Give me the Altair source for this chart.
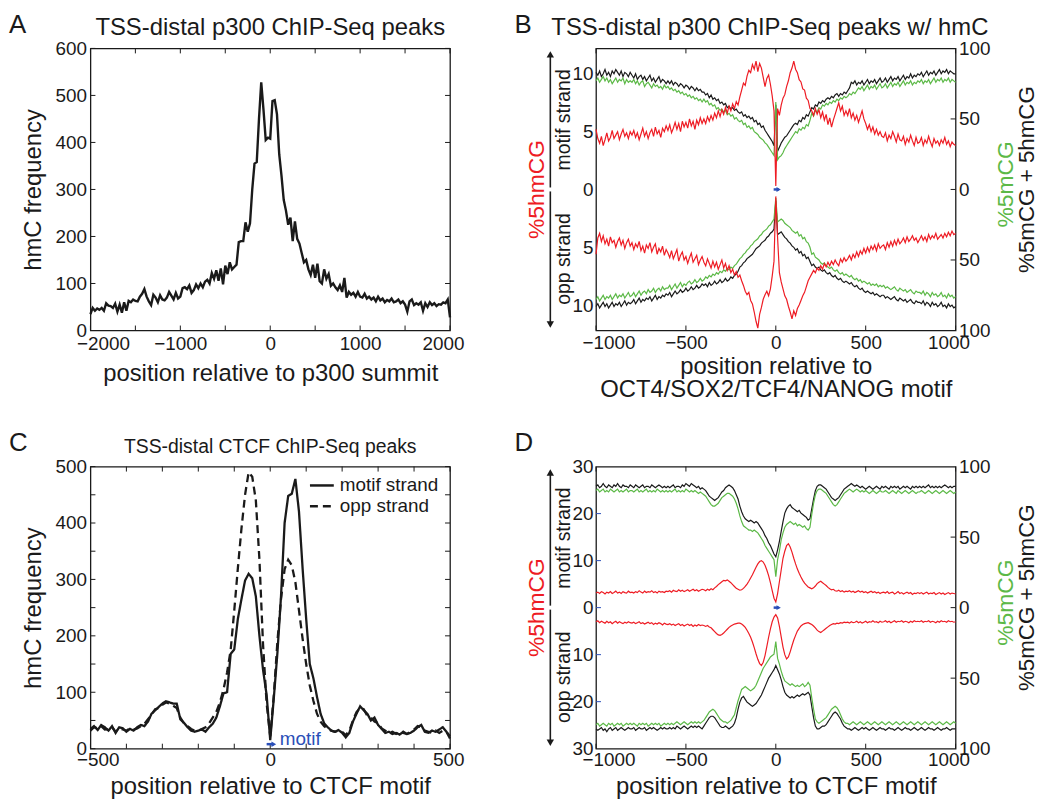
import altair as alt
import pandas as pd

FONT = "Liberation Sans"
RED = "#ee1c24"
GREEN = "#5cb947"
BLACK = "#1a1a1a"
BLUE = "#2a4fb8"
W, H = 362, 284

# ---------------- Panel A ----------------
a_title = "TSS-distal p300 ChIP-Seq peaks"
a_pos = list(range(-2000, 2001, 25))
a_hmc = [35, 48, 42, 47, 44, 48, 42, 58, 53, 52, 48, 57, 40, 55, 38, 60, 42, 63, 60, 66,
         63, 62, 72, 78, 88, 72, 62, 54, 76, 70, 60, 75, 66, 64, 70, 82, 74, 66, 80, 68,
         72, 90, 92, 88, 96, 80, 86, 98, 90, 100, 92, 104, 108, 100, 122, 110, 128, 106, 132, 98,
         138, 120, 145, 130, 135, 140, 188, 190, 190, 230, 210, 228, 300, 355, 358, 450, 528, 470, 405, 410,
         408, 488, 490, 460, 375, 330, 278, 255, 225, 240, 190, 232, 195, 185, 165, 145, 150, 130, 118, 140,
         112, 142, 105, 100, 130, 110, 120, 95, 100, 92, 86, 96, 82, 112, 70, 82, 76, 80, 72, 82,
         72, 70, 78, 68, 72, 66, 70, 62, 72, 64, 68, 60, 65, 62, 68, 60, 62, 66, 58, 62,
         55, 40, 62, 66, 54, 58, 55, 60, 42, 58, 50, 60, 54, 58, 52, 56, 55, 60, 58, 66, 28]
a_xticks = [-2000, -1500, -1000, -500, 0, 500, 1000, 1500, 2000]
a_xlabels = [-2000, -1000, 0, 1000, 2000]
a_yticks = [0, 100, 200, 300, 400, 500, 600]

# ---------------- Panel C ----------------
c_title = "TSS-distal CTCF ChIP-Seq peaks"
c_pos = list(range(-500, 501, 10))
c_motif = [35, 40, 33, 42, 38, 32, 40, 28, 38, 36, 30, 35, 32, 38, 42, 40, 48, 62, 68, 74,
           80, 84, 82, 80, 80, 52, 46, 38, 32, 30, 32, 34, 30, 38, 44, 55, 75, 98, 100, 168,
           176, 230, 265, 298, 310, 302, 270, 200, 140, 95, 15, 90, 170, 270, 400, 448, 452, 478, 420, 320,
           230, 150, 125, 92, 62, 45, 38, 32, 30, 33, 28, 20, 28, 48, 62, 75, 68, 62, 50, 55,
           42, 35, 28, 30, 26, 28, 25, 30, 26, 28, 32, 38, 42, 30, 28, 32, 30, 34, 38, 30, 18]
c_opp = [32, 38, 36, 40, 34, 35, 38, 30, 36, 34, 32, 36, 34, 36, 40, 44, 52, 60, 70, 72,
         78, 82, 80, 76, 72, 55, 45, 40, 35, 32, 32, 35, 38, 45, 55, 65, 82, 105, 135, 175,
         245, 320, 390, 450, 490, 482, 440, 335, 185, 80, 22, 95, 190, 265, 318, 335, 325, 295, 245, 195,
         150, 112, 85, 62, 48, 40, 35, 32, 30, 32, 30, 24, 32, 50, 65, 72, 70, 58, 55, 48,
         45, 36, 32, 28, 30, 26, 30, 28, 26, 30, 34, 40, 38, 32, 30, 28, 32, 28, 32, 30, 22]
c_xticks = [-500, -400, -300, -200, -100, 0, 100, 200, 300, 400, 500]
c_xlabels = [-500, 0, 500]
c_yticks = [0, 50, 100, 150, 200, 250, 300, 350, 400, 450, 500]
c_ylabels = [0, 100, 200, 300, 400, 500]
c_strands = ["motif strand", "opp strand"]
c_motif_from, c_motif_to, c_motif_y = [-10], [10], [8]

# ---------------- Panel B ----------------
b_title = "TSS-distal p300 ChIP-Seq peaks w/ hmC"
bd_pos = list(range(-1000, 1001, 10))
b_motif_hmc = ([5.2, 4.4, 4.0, 4.6, 3.8, 4.3, 4.9, 4.2, 4.5, 5.1, 4.4, 4.7, 5.0, 4.3, 4.8, 5.2, 4.6, 4.9, 4.4, 5.0]
               + [4.7, 5.1, 4.5, 4.9, 4.3, 4.8, 5.3, 4.6, 5.0, 4.4, 4.9, 5.2, 4.6, 5.4, 4.8, 5.1, 4.5, 5.3, 5.0, 5.5]
               + [5.1, 5.6, 4.9, 5.3, 5.8, 5.2, 5.7, 5.0, 5.9, 5.4, 5.8, 5.3, 6.1, 5.5, 5.9, 5.2, 6.0, 5.6, 6.2, 5.7]
               + [6.1, 5.7, 6.3, 5.9, 6.4, 6.0, 6.6, 6.2, 6.8, 6.3, 6.9, 6.5, 7.1, 6.6, 7.2, 6.8, 7.4, 7.0, 7.6, 7.3]
               + [8.0, 8.6, 9.2, 9.0, 9.8, 10.3, 10.1, 10.8, 10.4, 11.1, 10.2, 10.9, 10.5, 9.7, 8.9, 9.6, 9.9, 9.1, 8.1, 6.8]
               + [0.3]
               + [7.0, 6.4, 7.3, 7.9, 8.2, 8.9, 9.4, 10.1, 10.5, 11.1, 10.4, 10.1, 9.5, 9.3, 8.7, 8.6, 7.9, 7.7, 7.0]
               + [6.8, 6.4, 7.0, 6.5, 6.9, 6.2, 6.7, 6.0, 6.5, 5.6, 6.2, 5.4, 6.0, 6.5, 7.0, 7.5, 6.8, 7.2, 6.4, 6.8]
               + [6.4, 7.0, 6.2, 6.6, 6.0, 6.4, 5.8, 6.3, 6.8, 6.1, 5.7, 5.2, 5.6, 5.0, 5.4, 4.8, 5.2, 4.7, 5.0, 4.6]
               + [4.5, 4.9, 4.2, 4.7, 4.4, 5.0, 4.6, 4.1, 4.8, 4.3, 4.2, 4.6, 3.9, 4.4, 4.1, 4.7, 4.2, 3.8, 4.5, 4.0]
               + [4.1, 4.5, 3.8, 4.3, 4.0, 4.6, 4.1, 3.7, 4.4, 4.0, 4.2, 3.8, 4.3, 4.0, 4.5, 3.9, 4.2, 3.7, 4.1, 3.9]
               + [3.8])
b_motif_total = ([83, 81, 84, 80, 82, 85, 81, 83, 80, 84, 82, 85, 83, 81, 84, 80, 83, 82, 80, 83]
                 + [81, 79, 82, 78, 80, 81, 78, 80, 77, 79, 81, 77, 79, 76, 78, 80, 76, 78, 77, 75]
                 + [77, 75, 77, 74, 76, 75, 73, 75, 74, 72, 74, 73, 71, 73, 72, 70, 72, 70, 71, 69]
                 + [69, 67, 68, 65, 67, 64, 65, 63, 64, 61, 62, 60, 61, 58, 59, 57, 58, 56, 57, 55]
                 + [54, 55, 52, 53, 51, 52, 50, 51, 48, 49, 46, 47, 44, 45, 42, 40, 38, 36, 34, 31]
                 + [60]
                 + [27, 30, 33, 35, 37, 38, 40, 42, 44, 46, 47, 46, 49, 48, 51, 50, 53, 52, 55]
                 + [58, 57, 60, 59, 62, 61, 63, 62, 64, 65, 64, 66, 65, 67, 68, 66, 68, 67, 69, 68]
                 + [70, 72, 76, 75, 77, 74, 76, 75, 77, 74, 76, 78, 75, 77, 76, 78, 75, 77, 79, 76]
                 + [77, 79, 76, 78, 80, 77, 79, 78, 80, 77, 79, 81, 78, 80, 79, 82, 79, 81, 80, 82]
                 + [81, 83, 80, 82, 84, 81, 83, 82, 84, 81, 83, 85, 82, 84, 83, 85, 82, 84, 83, 82]
                 + [82])
b_motif_mc = ([77, 79, 76, 78, 80, 77, 79, 76, 78, 75, 77, 79, 76, 78, 77, 79, 75, 78, 76, 77]
              + [76, 78, 75, 77, 74, 76, 77, 73, 75, 76, 74, 72, 75, 73, 74, 72, 73, 71, 74, 72]
              + [73, 71, 72, 70, 71, 69, 70, 68, 69, 67, 68, 66, 67, 65, 66, 64, 65, 63, 64, 62]
              + [64, 62, 63, 60, 61, 59, 60, 57, 58, 56, 57, 55, 56, 53, 54, 52, 53, 50, 51, 49]
              + [48, 49, 46, 47, 44, 45, 43, 44, 41, 40, 39, 37, 36, 35, 33, 32, 30, 28, 26, 24]
              + [62]
              + [21, 23, 24, 26, 29, 31, 33, 35, 37, 39, 41, 40, 43, 42, 44, 43, 46, 45, 49]
              + [54, 52, 56, 55, 58, 57, 60, 59, 61, 60, 62, 61, 63, 62, 64, 63, 65, 64, 66, 65]
              + [66, 68, 67, 69, 68, 70, 72, 71, 73, 70, 72, 74, 71, 73, 72, 74, 71, 73, 75, 72]
              + [73, 75, 72, 74, 76, 73, 75, 74, 76, 73, 75, 77, 74, 76, 75, 77, 74, 76, 75, 77]
              + [76, 78, 75, 77, 76, 78, 75, 77, 79, 76, 78, 77, 79, 76, 78, 77, 79, 76, 78, 77]
              + [76])
b_opp_hmc = ([5.6, 4.2, 3.8, 4.5, 4.0, 4.7, 4.3, 4.9, 4.1, 4.6, 4.4, 5.0, 4.5, 4.2, 4.8, 4.4, 5.1, 4.6, 4.3, 4.9]
             + [4.6, 5.2, 4.7, 5.0, 4.5, 5.3, 4.9, 5.5, 4.8, 5.1, 4.6, 5.4, 5.0, 4.7, 5.6, 5.1, 5.4, 4.9, 5.7, 5.2]
             + [5.5, 5.9, 5.3, 6.0, 5.6, 5.2, 6.2, 5.7, 5.4, 6.1, 5.8, 6.4, 5.9, 5.5, 6.3, 6.0, 5.7, 6.5, 6.1, 5.8]
             + [6.3, 6.6, 6.0, 6.4, 6.8, 6.2, 6.7, 6.3, 6.9, 6.5, 6.1, 6.8, 6.4, 7.0, 6.6, 7.2, 6.9, 7.4, 7.1, 7.6]
             + [7.4, 7.9, 8.3, 8.8, 9.1, 8.9, 9.6, 9.9, 10.6, 11.4, 12.0, 10.8, 10.2, 9.5, 9.1, 8.8, 9.2, 8.6, 7.5, 6.2]
             + [0.6]
             + [4.2, 7.2, 8.0, 8.6, 9.2, 9.5, 10.1, 10.6, 11.2, 10.5, 10.9, 10.3, 10.0, 9.6, 9.2, 8.9, 8.4, 7.9, 7.6]
             + [7.3, 7.0, 7.2, 6.8, 7.0, 6.6, 6.9, 6.4, 6.7, 6.3, 6.6, 6.2, 6.5, 6.1, 6.4, 6.6, 6.0, 6.3, 5.9, 6.2]
             + [6.0, 5.7, 6.1, 5.6, 5.9, 5.4, 5.8, 5.3, 5.6, 5.1, 5.5, 5.0, 5.4, 4.9, 5.2, 4.8, 5.3, 4.7, 5.1, 4.9]
             + [4.8, 5.2, 4.6, 5.0, 4.5, 4.9, 4.4, 4.8, 4.3, 4.7, 4.5, 4.2, 4.6, 4.1, 4.5, 4.3, 4.0, 4.4, 4.2, 4.6]
             + [4.3, 4.0, 4.4, 4.1, 4.5, 3.9, 4.3, 4.0, 4.2, 3.8, 4.3, 4.1, 3.9, 4.2, 3.8, 4.1, 3.7, 4.0, 3.6, 3.9]
             + [3.8])
b_opp_total = ([83, 81, 84, 82, 80, 83, 81, 84, 82, 80, 83, 81, 82, 80, 83, 81, 79, 82, 80, 81]
               + [80, 78, 81, 79, 77, 80, 78, 79, 77, 78, 76, 79, 77, 75, 78, 76, 77, 75, 76, 74]
               + [75, 73, 76, 74, 72, 74, 73, 71, 73, 72, 70, 72, 71, 69, 71, 70, 68, 70, 69, 67]
               + [68, 67, 69, 66, 68, 67, 65, 67, 66, 64, 66, 65, 63, 65, 64, 62, 63, 61, 60, 58]
               + [55, 54, 52, 51, 49, 48, 47, 46, 44, 42, 41, 40, 38, 37, 36, 34, 33, 31, 30, 28]
               + [8]
               + [32, 31, 30, 32, 34, 35, 37, 38, 40, 41, 43, 42, 45, 44, 47, 46, 49, 48, 51]
               + [54, 53, 55, 56, 55, 57, 58, 57, 59, 60, 59, 61, 62, 61, 63, 64, 63, 65, 66, 65]
               + [66, 67, 66, 68, 69, 68, 70, 71, 70, 72, 73, 72, 73, 74, 73, 75, 74, 75, 76, 75]
               + [75, 77, 76, 77, 78, 77, 76, 78, 79, 77, 78, 79, 78, 80, 79, 78, 80, 81, 79, 80]
               + [80, 81, 79, 82, 80, 81, 83, 80, 82, 81, 83, 82, 80, 83, 82, 84, 81, 83, 82, 84]
               + [83])
b_opp_mc = ([78, 76, 79, 77, 75, 78, 76, 77, 75, 78, 76, 74, 77, 75, 76, 74, 77, 75, 73, 76]
            + [75, 73, 76, 74, 72, 75, 73, 72, 74, 71, 73, 72, 70, 73, 71, 70, 72, 69, 71, 70]
            + [70, 68, 71, 69, 67, 70, 68, 66, 69, 67, 68, 66, 65, 67, 66, 64, 66, 65, 63, 65]
            + [64, 62, 63, 61, 62, 60, 61, 59, 60, 58, 59, 57, 58, 56, 57, 55, 56, 54, 53, 51]
            + [49, 48, 46, 45, 43, 42, 40, 39, 37, 36, 35, 33, 32, 30, 29, 28, 26, 25, 23, 21]
            + [6]
            + [23, 22, 21, 22, 24, 25, 26, 27, 29, 30, 31, 30, 33, 32, 35, 34, 37, 38, 41]
            + [46, 45, 48, 49, 50, 52, 53, 52, 54, 55, 56, 55, 57, 58, 57, 59, 60, 59, 61, 60]
            + [61, 62, 61, 63, 64, 63, 65, 64, 66, 65, 66, 67, 66, 68, 67, 68, 67, 69, 68, 69]
            + [68, 70, 69, 70, 71, 70, 69, 71, 72, 70, 71, 72, 71, 73, 72, 71, 73, 74, 72, 73]
            + [73, 74, 72, 75, 73, 74, 76, 73, 75, 74, 76, 75, 73, 76, 75, 77, 74, 76, 75, 77]
            + [76])

# ---------------- Panel D ----------------
d_motif_hmc = ([3.1, 3.3, 3.0, 3.4, 3.2, 2.9, 3.3, 3.1, 3.4, 3.0, 3.2, 3.5, 3.1, 3.3, 3.0, 3.4, 3.2, 3.1, 3.5, 3.2]
               + [3.3, 3.1, 3.4, 3.2, 3.6, 3.3, 3.1, 3.5, 3.2, 3.4, 3.3, 3.6, 3.2, 3.4, 3.1, 3.5, 3.3, 3.4, 3.2, 3.5]
               + [3.4, 3.6, 3.3, 3.7, 3.5, 3.4, 3.8, 3.5, 3.7, 3.4, 3.6, 3.8, 3.5, 3.7, 3.9, 3.6, 3.8, 3.5, 3.7, 3.9]
               + [3.8, 3.6, 3.9, 3.7, 4.0, 3.8, 4.2, 4.5, 4.9, 5.2, 5.5, 5.8, 5.7, 5.9, 5.6, 5.3, 4.9, 4.5, 4.1, 3.9]
               + [3.7, 3.8, 4.1, 4.5, 5.0, 5.6, 6.3, 7.0, 7.8, 8.6, 9.3, 9.8, 10.0, 9.7, 9.0, 8.0, 6.8, 5.3, 3.6, 2.0]
               + [1.2]
               + [3.0, 5.5, 8.0, 10.5, 12.0, 13.2, 13.6, 12.9, 11.8, 10.5, 9.3, 8.2, 7.3, 6.5, 5.8, 5.2, 4.8, 4.4, 4.2]
               + [4.0, 4.2, 4.6, 5.1, 5.4, 5.6, 5.3, 5.0, 4.7, 4.3, 4.0, 3.8, 3.9, 3.6, 3.5, 3.7, 3.4, 3.6, 3.3, 3.5]
               + [3.4, 3.6, 3.3, 3.5, 3.2, 3.4, 3.6, 3.3, 3.5, 3.2, 3.4, 3.1, 3.3, 3.5, 3.2, 3.4, 3.1, 3.3, 3.0, 3.2]
               + [3.3, 3.1, 3.4, 3.0, 3.2, 3.3, 2.9, 3.1, 3.4, 3.0, 3.2, 2.9, 3.1, 3.3, 3.0, 3.2, 2.8, 3.1, 3.0, 3.2]
               + [3.0, 3.2, 2.9, 3.1, 3.3, 2.9, 3.1, 3.0, 3.2, 2.8, 3.0, 3.2, 2.9, 3.1, 2.8, 3.0, 3.2, 2.9, 3.1, 3.0]
               + [2.9])
d_motif_total = ([86, 87, 85, 86, 88, 86, 85, 87, 86, 85, 87, 86, 88, 86, 85, 87, 86, 86, 85, 87]
                 + [86, 85, 87, 86, 85, 86, 87, 85, 86, 86, 85, 87, 86, 85, 86, 87, 86, 85, 86, 85]
                 + [86, 85, 86, 87, 85, 86, 86, 85, 87, 86, 88, 87, 86, 88, 87, 86, 85, 86, 84, 85]
                 + [84, 83, 81, 79, 78, 77, 76, 77, 78, 80, 82, 83, 85, 86, 87, 86, 85, 83, 80, 77]
                 + [72, 68, 65, 63, 62, 61, 62, 61, 60, 61, 60, 58, 56, 54, 51, 49, 46, 44, 41, 38]
                 + [36]
                 + [41, 47, 54, 61, 67, 70, 72, 73, 71, 70, 69, 68, 69, 67, 66, 65, 64, 62, 63]
                 + [70, 77, 83, 86, 87, 87, 86, 85, 84, 82, 80, 78, 77, 76, 77, 78, 80, 82, 84, 85]
                 + [86, 87, 88, 87, 86, 87, 86, 85, 86, 85, 84, 85, 86, 85, 84, 85, 86, 85, 84, 86]
                 + [85, 86, 85, 84, 86, 85, 86, 85, 86, 84, 85, 86, 85, 86, 85, 84, 86, 85, 86, 85]
                 + [86, 85, 86, 85, 86, 87, 85, 86, 85, 86, 85, 86, 85, 86, 87, 86, 85, 86, 85, 86]
                 + [86])
d_motif_mc = ([83, 84, 82, 83, 84, 82, 83, 82, 84, 83, 82, 83, 84, 82, 83, 82, 83, 84, 82, 83]
              + [83, 82, 83, 84, 82, 83, 82, 83, 84, 82, 83, 82, 83, 82, 84, 83, 82, 83, 82, 83]
              + [82, 83, 82, 83, 84, 82, 83, 82, 83, 82, 84, 83, 82, 83, 82, 83, 82, 81, 82, 81]
              + [80, 79, 77, 75, 73, 72, 72, 73, 74, 76, 78, 79, 80, 81, 81, 80, 79, 77, 74, 70]
              + [65, 61, 58, 57, 56, 55, 55, 54, 55, 54, 53, 51, 49, 47, 44, 42, 40, 38, 36, 34]
              + [22]
              + [34, 40, 48, 53, 57, 59, 60, 61, 60, 59, 60, 58, 59, 58, 57, 58, 56, 55, 57]
              + [66, 74, 80, 83, 84, 84, 83, 82, 81, 79, 77, 75, 73, 72, 73, 75, 77, 79, 81, 82]
              + [83, 84, 83, 82, 83, 84, 83, 82, 83, 82, 83, 82, 81, 82, 83, 82, 81, 82, 83, 82]
              + [82, 83, 82, 81, 82, 83, 82, 81, 83, 82, 81, 82, 83, 82, 81, 82, 83, 82, 81, 82]
              + [82, 83, 82, 81, 82, 83, 82, 81, 82, 83, 82, 81, 82, 83, 82, 81, 82, 83, 82, 81]
              + [82])
d_opp_hmc = ([3.0, 2.8, 3.2, 2.9, 3.1, 3.3, 2.9, 3.2, 3.0, 3.4, 3.1, 2.9, 3.3, 3.0, 3.2, 3.4, 3.1, 3.3, 3.0, 3.2]
             + [3.3, 3.1, 3.4, 3.2, 3.0, 3.4, 3.2, 3.5, 3.3, 3.1, 3.4, 3.2, 3.6, 3.3, 3.5, 3.2, 3.4, 3.7, 3.3, 3.5]
             + [3.6, 3.4, 3.7, 3.5, 3.8, 3.6, 3.4, 3.8, 3.6, 3.9, 3.7, 3.5, 3.8, 3.6, 4.0, 3.7, 3.9, 3.6, 3.8, 3.7]
             + [3.8, 4.0, 3.8, 4.1, 4.3, 4.7, 5.1, 5.5, 5.8, 5.9, 5.7, 5.4, 5.0, 4.6, 4.2, 3.9, 3.7, 3.5, 3.4, 3.3]
             + [3.3, 3.5, 3.8, 4.2, 4.8, 5.5, 6.3, 7.3, 8.5, 9.8, 11.0, 11.9, 12.3, 11.6, 10.2, 8.3, 6.3, 4.5, 3.0, 2.0]
             + [1.5]
             + [2.2, 4.0, 6.2, 8.4, 10.0, 10.9, 10.5, 9.4, 8.1, 6.9, 5.9, 5.0, 4.4, 3.9, 3.6, 3.4, 3.3, 3.2, 3.4]
             + [3.6, 3.9, 4.3, 4.8, 5.1, 5.3, 5.0, 4.7, 4.4, 4.1, 3.8, 3.6, 3.4, 3.5, 3.3, 3.4, 3.2, 3.3, 3.1, 3.2]
             + [3.1, 3.3, 3.0, 3.2, 3.1, 2.9, 3.2, 3.0, 3.3, 3.1, 2.9, 3.2, 3.0, 3.1, 2.8, 3.1, 3.0, 3.2, 2.9, 3.1]
             + [3.0, 2.8, 3.1, 2.9, 3.2, 3.0, 2.8, 3.1, 2.9, 3.0, 2.8, 3.1, 2.9, 3.0, 3.2, 2.9, 3.1, 2.8, 3.0, 2.9]
             + [3.0, 2.8, 3.1, 2.9, 3.0, 2.8, 3.1, 2.9, 3.0, 3.2, 2.9, 3.1, 2.8, 3.0, 2.9, 3.1, 2.8, 3.0, 2.9, 3.1]
             + [3.0])
d_opp_total = ([86, 87, 86, 85, 87, 86, 88, 86, 85, 87, 86, 85, 87, 86, 85, 86, 87, 86, 85, 86]
               + [86, 85, 87, 86, 85, 86, 86, 85, 87, 86, 85, 86, 85, 86, 87, 86, 85, 86, 85, 86]
               + [86, 85, 86, 85, 86, 84, 85, 86, 85, 84, 85, 86, 85, 84, 85, 84, 85, 84, 85, 86]
               + [84, 82, 80, 78, 77, 77, 78, 80, 82, 84, 85, 85, 84, 85, 86, 85, 84, 82, 78, 72]
               + [67, 64, 63, 65, 67, 68, 69, 70, 69, 68, 66, 64, 62, 59, 56, 53, 50, 48, 46, 44]
               + [41]
               + [44, 47, 51, 56, 60, 62, 63, 64, 63, 64, 63, 62, 63, 62, 61, 62, 61, 60, 62]
               + [70, 78, 84, 86, 86, 85, 84, 84, 83, 81, 79, 77, 75, 74, 75, 77, 79, 82, 84, 85]
               + [86, 86, 87, 86, 85, 86, 87, 86, 85, 86, 85, 86, 87, 86, 85, 86, 87, 86, 85, 86]
               + [86, 87, 86, 85, 86, 86, 87, 86, 85, 86, 87, 86, 85, 86, 86, 87, 86, 85, 86, 87]
               + [86, 85, 86, 87, 86, 85, 86, 86, 87, 86, 85, 86, 87, 86, 86, 85, 86, 87, 86, 86]
               + [86])
d_opp_mc = ([83, 82, 84, 83, 82, 83, 84, 82, 83, 82, 84, 83, 82, 83, 82, 84, 83, 82, 83, 82]
            + [83, 82, 83, 84, 82, 83, 82, 83, 82, 84, 83, 82, 83, 82, 83, 82, 84, 83, 82, 83]
            + [82, 83, 82, 83, 82, 81, 82, 83, 82, 81, 82, 83, 82, 81, 82, 81, 82, 81, 82, 81]
            + [80, 78, 76, 74, 73, 72, 73, 75, 77, 79, 80, 81, 81, 82, 81, 80, 78, 76, 71, 66]
            + [62, 58, 57, 56, 57, 58, 59, 58, 57, 55, 52, 49, 46, 43, 41, 39, 37, 35, 34, 33]
            + [24]
            + [36, 40, 45, 49, 52, 53, 54, 55, 54, 55, 56, 55, 56, 55, 54, 56, 55, 53, 55]
            + [64, 72, 79, 81, 82, 81, 80, 79, 78, 76, 74, 72, 71, 70, 71, 73, 76, 79, 81, 82]
            + [82, 83, 82, 81, 82, 83, 82, 81, 82, 83, 82, 81, 82, 83, 82, 81, 82, 83, 82, 81]
            + [82, 83, 82, 81, 82, 83, 82, 81, 82, 83, 82, 81, 82, 83, 82, 81, 82, 83, 82, 81]
            + [82, 83, 82, 81, 82, 83, 82, 81, 82, 83, 82, 81, 82, 83, 82, 81, 82, 83, 82, 81]
            + [82])

bd_xticks = [-1000, -500, 0, 500, 1000]
bd_right_ticks = [-50, 0, 50]
bd_right_labels = [-100, -50, 0, 50, 100]
b_left_labels = [-10, -5, 0, 5, 10]
d_left_labels = [-30, -20, -10, 0, 10, 20, 30]
d_left_ticks = [-20, -10, 0, 10, 20]
bd_motif_from, bd_motif_to = [-12], [16]

for arr in [b_motif_hmc, b_motif_total, b_motif_mc, b_opp_hmc, b_opp_total, b_opp_mc,
            d_motif_hmc, d_motif_total, d_motif_mc, d_opp_hmc, d_opp_total, d_opp_mc]:
    assert len(arr) == len(bd_pos), len(arr)
assert len(a_hmc) == len(a_pos), len(a_hmc)
assert len(c_motif) == len(c_pos) and len(c_opp) == len(c_pos), (len(c_motif), len(c_opp))

ONE = pd.DataFrame({"k": [0]})


def lin(domain):
    return alt.Scale(domain=domain, nice=False, zero=False)


def xticks_layers(vals, xs, color=BLACK):
    df = pd.DataFrame({"t": vals})
    base = alt.Chart(df).mark_rule(color=color, strokeWidth=1)
    return [base.encode(x=alt.X("t:Q", scale=xs), y=alt.value(H), y2=alt.value(H - 5)),
            base.encode(x=alt.X("t:Q", scale=xs), y=alt.value(0), y2=alt.value(5))]


def yticks_layers(vals, ys, sides=("left", "right"), color=BLACK):
    df = pd.DataFrame({"t": vals})
    base = alt.Chart(df).mark_rule(color=color, strokeWidth=1)
    out = []
    if "left" in sides:
        out.append(base.encode(y=alt.Y("t:Q", scale=ys), x=alt.value(0), x2=alt.value(5)))
    if "right" in sides:
        out.append(base.encode(y=alt.Y("t:Q", scale=ys), x=alt.value(W - 5), x2=alt.value(W)))
    return out


def text_layer(txt, x, y, size=19, color=BLACK, angle=0, align="center", baseline="middle"):
    return alt.Chart(ONE).mark_text(text=txt, font=FONT, fontSize=size, color=color, angle=angle,
                                    align=align, baseline=baseline).encode(x=alt.value(x), y=alt.value(y))


def letter(ch):
    return text_layer(ch, -82, -36.5, size=26, align="left", baseline="top")


def title_text(txt, size, dx=0):
    # top of the text box placed so that the baseline sits ~13px above the frame
    return text_layer(txt, W / 2 + dx, -13.5 - 0.79 * size, size=size, baseline="top")


def xaxis(labels, title, label_pad, title_pad):
    return alt.Axis(values=labels, format="d", title=title, labelFlush=True, labelFlushOffset=14,
                    labelPadding=label_pad, titlePadding=title_pad, titleLineHeight=23)


# ---------------- build A ----------------
xa, ya = lin([-2000, 2000]), lin([0, 600])
dfA = pd.DataFrame({"pos": a_pos, "hmc": a_hmc})
lineA = alt.Chart(dfA).mark_line(color=BLACK, strokeWidth=2.4).encode(
    x=alt.X("pos:Q", scale=xa, axis=xaxis(a_xlabels, "position relative to p300 summit", 4, 8)),
    y=alt.Y("hmc:Q", scale=ya, axis=alt.Axis(values=a_yticks, title="hmC frequency",
                                              labelPadding=4, titlePadding=10)))
panelA = alt.layer(lineA, *xticks_layers(a_xticks, xa), *yticks_layers(a_yticks, ya), letter("A"),
                   title_text(a_title, 24)).properties(width=W, height=H)

# ---------------- build C ----------------
xc, yc = lin([-500, 500]), lin([0, 500])
dfC = pd.DataFrame({"pos": c_pos + c_pos, "hmc": c_motif + c_opp,
                    "strand": [c_strands[0]] * len(c_pos) + [c_strands[1]] * len(c_pos)})
lineC = alt.Chart(dfC).mark_line(color=BLACK, strokeWidth=2.3).encode(
    x=alt.X("pos:Q", scale=xc, axis=xaxis(c_xlabels, "position relative to CTCF motif", 2, 5)),
    y=alt.Y("hmc:Q", scale=yc, axis=alt.Axis(values=c_ylabels, title="hmC frequency",
                                              labelPadding=4, titlePadding=10)),
    strokeDash=alt.StrokeDash("strand:N", scale=alt.Scale(domain=c_strands, range=[[1, 0], [8, 5]]),
                              legend=None))
legC = [
    alt.Chart(ONE).mark_rule(color=BLACK, strokeWidth=2.5).encode(
        x=alt.value(221), x2=alt.value(245), y=alt.value(19)),
    alt.Chart(ONE).mark_rule(color=BLACK, strokeWidth=2.5, strokeDash=[8, 5]).encode(
        x=alt.value(221), x2=alt.value(245), y=alt.value(40)),
    text_layer(c_strands[0], 251, 19, size=19, align="left"),
    text_layer(c_strands[1], 251, 40, size=19, align="left"),
]
dfCm = pd.DataFrame({"a": c_motif_from, "b": c_motif_to, "y": c_motif_y})
motifC = alt.Chart(dfCm).mark_rule(color=BLUE, strokeWidth=2.5).encode(
    x=alt.X("a:Q", scale=xc), x2="b:Q", y=alt.Y("y:Q", scale=yc))
motifCh = alt.Chart(dfCm).mark_point(shape="triangle-right", filled=True, color=BLUE, size=30, opacity=1).encode(
    x=alt.X("b:Q", scale=xc), y=alt.Y("y:Q", scale=yc))
motifCt = alt.Chart(dfCm).mark_text(text="motif", font=FONT, fontSize=19, color=BLUE, align="left",
                                    baseline="alphabetic", dx=6, dy=1).encode(
    x=alt.X("b:Q", scale=xc), y=alt.Y("y:Q", scale=yc))
panelC = alt.layer(lineC, *xticks_layers(c_xticks, xc), *yticks_layers(c_yticks, yc), motifC, motifCh, motifCt,
                   *legC, letter("C"), title_text(c_title, 19.5)).properties(width=W, height=H)


# ---------------- build B / D ----------------
def strand_panel(motif_hmc, motif_total, motif_mc, opp_hmc, opp_total, opp_mc, hdom, left_labels,
                 xtitle, left_ticks, ltr, title=None):
    xs, yh, ym = lin([-1000, 1000]), lin(hdom), lin([-100, 100])
    n = len(bd_pos)
    dfh = pd.DataFrame({"pos": bd_pos + bd_pos, "v": motif_hmc + [-v for v in opp_hmc],
                        "strand": ["motif"] * n + ["opp"] * n})
    dfm = pd.DataFrame({"pos": bd_pos * 4,
                        "v": motif_total + [-v for v in opp_total] + motif_mc + [-v for v in opp_mc],
                        "series": ["total"] * (2 * n) + ["mc"] * (2 * n),
                        "strand": (["motif"] * n + ["opp"] * n) * 2})
    two = isinstance(xtitle, list)
    xax = xaxis(bd_xticks, xtitle, 3 if two else 2, 2 if two else 5)
    black = alt.Chart(dfm[dfm.series == "total"]).mark_line(color=BLACK, strokeWidth=1.2).encode(
        x=alt.X("pos:Q", scale=xs, axis=xax),
        y=alt.Y("v:Q", scale=ym, axis=alt.Axis(orient="right", values=bd_right_labels,
                                               labelExpr="abs(datum.value)", title=None, labelPadding=3)),
        detail="strand:N")
    green = alt.Chart(dfm[dfm.series == "mc"]).mark_line(color=GREEN, strokeWidth=1.2).encode(
        x=alt.X("pos:Q", scale=xs), y=alt.Y("v:Q", scale=ym), detail="strand:N")
    right_group = alt.layer(black, green, *xticks_layers(bd_xticks, xs),
                            *yticks_layers(bd_right_ticks, ym, sides=("right",)))

    red = alt.Chart(dfh).mark_line(color=RED, strokeWidth=1.2).encode(
        x=alt.X("pos:Q", scale=xs),
        y=alt.Y("v:Q", scale=yh, axis=alt.Axis(orient="left", values=left_labels,
                                               labelExpr="abs(datum.value)", title=None, labelPadding=3)),
        detail="strand:N")
    dfmo = pd.DataFrame({"a": bd_motif_from, "b": bd_motif_to, "y": [0]})
    mrule = alt.Chart(dfmo).mark_rule(color=BLUE, strokeWidth=2.5).encode(
        x=alt.X("a:Q", scale=xs), x2="b:Q", y=alt.Y("y:Q", scale=yh))
    mhead = alt.Chart(dfmo).mark_point(shape="triangle-right", filled=True, color=BLUE, size=25, opacity=1).encode(
        x=alt.X("b:Q", scale=xs), y=alt.Y("y:Q", scale=yh))
    arr_up = alt.Chart(ONE).mark_rule(color=BLACK, strokeWidth=1.6).encode(
        x=alt.value(-46), y=alt.value(8), y2=alt.value(H / 2 - 2))
    arr_dn = alt.Chart(ONE).mark_rule(color=BLACK, strokeWidth=1.6).encode(
        x=alt.value(-46), y=alt.value(H / 2 + 2), y2=alt.value(H - 8))
    head_up = alt.Chart(ONE).mark_point(shape="triangle-up", filled=True, color=BLACK, size=55, opacity=1).encode(
        x=alt.value(-46), y=alt.value(6))
    head_dn = alt.Chart(ONE).mark_point(shape="triangle-down", filled=True, color=BLACK, size=55, opacity=1).encode(
        x=alt.value(-46), y=alt.value(H - 6))
    layers = [red, mrule, mhead, arr_up, arr_dn, head_up, head_dn,
              text_layer("motif strand", -32, H / 2 - 70, size=19.5, angle=270),
              text_layer("opp strand", -32, H / 2 + 70, size=19.5, angle=270),
              text_layer("%5hmCG", -59, H / 2, size=23, color=RED, angle=270),
              text_layer("%5mCG", W + 51, H / 2 - 5, size=23, color=GREEN, angle=270),
              text_layer("%5mCG + 5hmCG", W + 72, H / 2 - 10, size=22.5, angle=270),
              letter(ltr)]
    if title:
        layers.append(title_text(title, 24, dx=-6))
    if left_ticks:
        layers += yticks_layers(left_ticks, yh, sides=("left",), color=BLUE)
    left_group = alt.layer(*layers)
    return alt.layer(right_group, left_group).resolve_scale(y="independent").properties(width=W, height=H)


panelB = strand_panel(b_motif_hmc, b_motif_total, b_motif_mc, b_opp_hmc, b_opp_total, b_opp_mc,
                      [-12.2, 12.2], b_left_labels,
                      ["position relative to", "OCT4/SOX2/TCF4/NANOG motif"], None, "B", title=b_title)
panelD = strand_panel(d_motif_hmc, d_motif_total, d_motif_mc, d_opp_hmc, d_opp_total, d_opp_mc,
                      [-30, 30], d_left_labels, "position relative to CTCF motif", d_left_ticks, "D")

top = alt.hconcat(panelA, panelB, spacing=49)
bottom = alt.hconcat(panelC, panelD, spacing=49)
chart = alt.vconcat(top, bottom, spacing=27).properties(
    padding={"left": 0, "top": 0, "right": 2, "bottom": 0}
).configure_view(stroke=BLACK, strokeWidth=1.3).configure_axis(
    labelFont=FONT, titleFont=FONT, labelFontSize=19, titleFontSize=24, titleFontWeight="normal",
    labelColor=BLACK, titleColor=BLACK, domain=False, ticks=False, grid=False
)

chart.save("out.html", embed_options={"renderer": "svg", "actions": False})
